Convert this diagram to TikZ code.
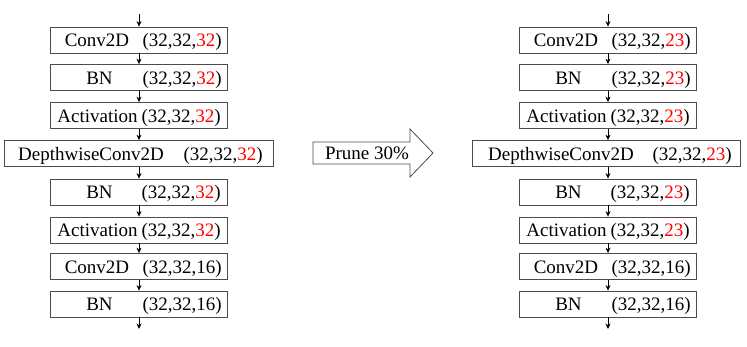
\documentclass[tikz,border=0pt]{standalone}
\usepackage{fontspec}
\setmainfont{Liberation Serif}
\usetikzlibrary{arrows.meta}
\newcommand\R[1]{\textcolor{red}{#1}}
% #1 node name, #2 cx, #3 cy, #4 width, #5 name-centre x, #6 tuple right x, #7 name text, #8 tuple text
\newcommand\lay[8]{%
  \node[layer,minimum width=#4bp] (#1) at (#2,#3) {};
  \node[lbl] (#1n) at (#5,#3+6.5) {#7};
  \node[lbl,anchor=base east] (#1t) at (#6,#3+6.5) {#8};
}
\begin{document}
\begin{tikzpicture}[x=1bp,y=-1bp,
  layer/.style={draw=black!70, line width=0.8bp, minimum height=26bp, inner sep=0pt},
  lbl/.style={font=\fontsize{19bp}{22bp}\selectfont, inner sep=0pt, anchor=base},
  flow/.style={-{Stealth[length=5.5bp,width=5bp]}, line width=0.8bp},
  bigarrow/.style={draw=black!70, line width=0.8bp, fill=white}]
\useasboundingbox (0,0) rectangle (747,346);
% left column
\lay{a1}{139}{40}{177}{97}{222}{Conv2D}{(32,32,\R{32})}
\lay{a2}{139}{77.5}{177}{99.5}{222}{BN}{(32,32,\R{32})}
\lay{a3}{139}{115.5}{177}{97.5}{221}{Activation}{(32,32,\R{32})}
\lay{a4}{139}{153.5}{269}{91}{263}{DepthwiseConv2D}{(32,32,\R{32})}
\lay{a5}{139}{192}{177}{99.5}{221}{BN}{(32,32,\R{32})}
\lay{a6}{139}{230}{177}{97.5}{221}{Activation}{(32,32,\R{32})}
\lay{a7}{139}{266.5}{177}{97}{222}{Conv2D}{(32,32,16)}
\lay{a8}{139}{304}{177}{99.5}{222}{BN}{(32,32,16)}
% right column
\lay{b1}{608}{40}{177}{566}{691}{Conv2D}{(32,32,\R{23})}
\lay{b2}{608}{77.5}{177}{568.5}{691}{BN}{(32,32,\R{23})}
\lay{b3}{608}{115.5}{177}{566.5}{690}{Activation}{(32,32,\R{23})}
\lay{b4}{606.5}{153.5}{268}{561}{732}{DepthwiseConv2D}{(32,32,\R{23})}
\lay{b5}{608}{192}{177}{568.5}{690}{BN}{(32,32,\R{23})}
\lay{b6}{608}{230}{177}{566.5}{690}{Activation}{(32,32,\R{23})}
\lay{b7}{608}{266.5}{177}{566}{691}{Conv2D}{(32,32,16)}
\lay{b8}{608}{304}{177}{568.5}{691}{BN}{(32,32,16)}
% free ends
\coordinate (ain) at (139,14);
\coordinate (aout) at (139,329);
\coordinate (bin) at (608,14);
\coordinate (bout) at (608,329);
% connectors
\draw[flow] (ain) -- (a1.north);
\draw[flow] (a1) -- (a2);
\draw[flow] (a2) -- (a3);
\draw[flow] (a3) -- (a4);
\draw[flow] (a4) -- (a5);
\draw[flow] (a5) -- (a6);
\draw[flow] (a6) -- (a7);
\draw[flow] (a7) -- (a8);
\draw[flow] (a8) -- (aout);
\draw[flow] (bin) -- (b1.north);
\draw[flow] (b1) -- (b2);
\draw[flow] (b2) -- (b3);
\draw[flow] (b3) -- (b4.north -| b3.south);
\draw[flow] (b4.south -| b5.north) -- (b5);
\draw[flow] (b5) -- (b6);
\draw[flow] (b6) -- (b7);
\draw[flow] (b7) -- (b8);
\draw[flow] (b8) -- (bout);
% prune arrow
\draw[bigarrow] (313,142) -- (410,142) -- (410,129) -- (433,153) -- (410,177) -- (410,164) -- (313,164) -- cycle;
\node[lbl] (prune) at (367,153+6.5) {Prune 30\%};
\end{tikzpicture}
\end{document}
